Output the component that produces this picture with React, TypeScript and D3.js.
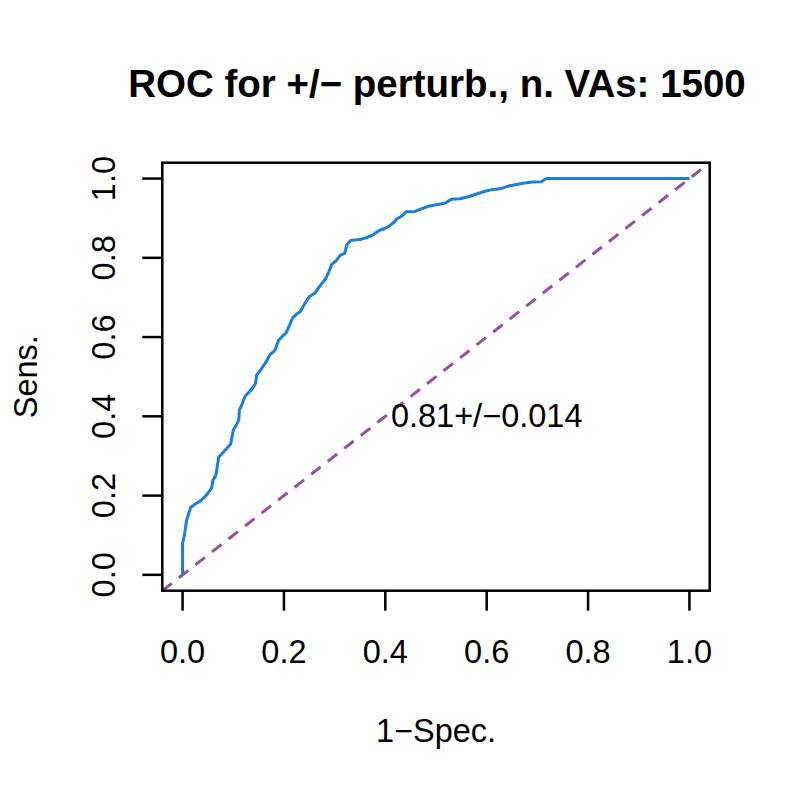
import React, { useEffect, useRef } from "react";
import * as d3 from "d3";

// ROC curve points (1-Spec., Sens.)
const fpr = [0, 0, 0.003, 0.008, 0.016, 0.024, 0.035, 0.047, 0.057, 0.06, 0.066, 0.071,
  0.083, 0.095, 0.1, 0.106, 0.111, 0.112, 0.117, 0.123, 0.136, 0.144, 0.146, 0.153,
  0.165, 0.172, 0.182, 0.189, 0.196, 0.204, 0.21, 0.217, 0.225, 0.232, 0.241, 0.25,
  0.261, 0.271, 0.282, 0.289, 0.294, 0.303, 0.311, 0.32, 0.324, 0.332, 0.35, 0.363,
  0.376, 0.388, 0.399, 0.409, 0.419, 0.422, 0.432, 0.441, 0.459, 0.472, 0.485, 0.501,
  0.518, 0.524, 0.531, 0.547, 0.564, 0.58, 0.597, 0.61, 0.626, 0.643, 0.659, 0.672,
  0.689, 0.708, 0.718, 1];
const tpr = [0, 0.08, 0.096, 0.138, 0.17, 0.178, 0.186, 0.201, 0.218, 0.239, 0.252, 0.296,
  0.313, 0.33, 0.365, 0.378, 0.391, 0.416, 0.429, 0.45, 0.468, 0.483, 0.504, 0.515,
  0.538, 0.555, 0.566, 0.591, 0.601, 0.61, 0.627, 0.648, 0.658, 0.664, 0.684, 0.702,
  0.711, 0.729, 0.747, 0.766, 0.783, 0.793, 0.806, 0.812, 0.833, 0.844, 0.846, 0.851,
  0.858, 0.869, 0.874, 0.881, 0.892, 0.898, 0.905, 0.916, 0.917, 0.924, 0.93, 0.934,
  0.938, 0.943, 0.948, 0.949, 0.954, 0.961, 0.968, 0.972, 0.974, 0.981, 0.985, 0.988,
  0.991, 0.992, 1, 1];
const ticks = [0, 0.2, 0.4, 0.6, 0.8, 1];
const title = "ROC for +/\u2212 perturb., n. VAs: 1500";
const aucLabel = "0.81+/\u22120.014";

const App = () => {
  const ref = useRef<SVGSVGElement>(null);

  useEffect(() => {
    const svg = d3.select(ref.current);
    svg.selectAll("*").remove();
    const font = "'Liberation Sans', Arial, sans-serif";
    const fs = 32.5;

    const left = 162.3, right = 709.7, top = 162.7, bottom = 590.7;
    // R style 4% padding on both ends
    const x = d3.scaleLinear().domain([-0.04, 1.04]).range([left, right]);
    const y = d3.scaleLinear().domain([-0.04, 1.04]).range([bottom, top]);

    // diagonal reference line
    svg.append("line")
      .attr("x1", x(-0.04)).attr("y1", y(-0.04))
      .attr("x2", x(1.04)).attr("y2", y(1.04))
      .attr("stroke", "#984ea3")
      .attr("stroke-width", 3)
      .attr("stroke-dasharray", "12 9");

    const pts: [number, number][] = fpr.map((d, i) => [d, tpr[i]]);
    const line = d3.line<[number, number]>().x(d => x(d[0])).y(d => y(d[1]));
    svg.append("path")
      .attr("d", line(pts))
      .attr("fill", "none")
      .attr("stroke", "#1a7fd6")
      .attr("stroke-width", 3)
      .attr("stroke-linejoin", "round");

    // box
    svg.append("rect")
      .attr("x", left).attr("y", top)
      .attr("width", right - left).attr("height", bottom - top)
      .attr("fill", "none").attr("stroke", "black").attr("stroke-width", 2.5);

    // x axis
    const gx = svg.append("g");
    gx.selectAll("line").data(ticks).enter().append("line")
      .attr("x1", d => x(d)).attr("x2", d => x(d))
      .attr("y1", bottom).attr("y2", bottom + 20)
      .attr("stroke", "black").attr("stroke-width", 2.5);
    gx.selectAll("text").data(ticks).enter().append("text")
      .text(d => d3.format(".1f")(d))
      .attr("x", d => x(d)).attr("y", 663)
      .attr("text-anchor", "middle")
      .attr("font-family", font).attr("font-size", fs);

    // y axis
    const gy = svg.append("g");
    gy.selectAll("line").data(ticks).enter().append("line")
      .attr("y1", d => y(d)).attr("y2", d => y(d))
      .attr("x1", left).attr("x2", left - 20)
      .attr("stroke", "black").attr("stroke-width", 2.5);
    gy.selectAll("text").data(ticks).enter().append("text")
      .text(d => d3.format(".1f")(d))
      .attr("transform", d => `translate(115,${y(d)}) rotate(-90)`)
      .attr("text-anchor", "middle")
      .attr("font-family", font).attr("font-size", fs);

    // labels
    svg.append("text")
      .text(title)
      .attr("x", 437).attr("y", 97)
      .attr("text-anchor", "middle")
      .attr("font-family", font).attr("font-size", 38.5).attr("font-weight", "bold");
    svg.append("text")
      .text("1\u2212Spec.")
      .attr("x", (left + right) / 2).attr("y", 742)
      .attr("text-anchor", "middle")
      .attr("font-family", font).attr("font-size", fs);
    svg.append("text")
      .text("Sens.")
      .attr("transform", `translate(37,${(top + bottom) / 2}) rotate(-90)`)
      .attr("text-anchor", "middle")
      .attr("font-family", font).attr("font-size", fs);

    svg.append("text")
      .text(aucLabel)
      .attr("x", x(0.6)).attr("y", y(0.4) + 11)
      .attr("text-anchor", "middle")
      .attr("font-family", font).attr("font-size", fs);
  }, []);

  return (
    <div style={{ position: "absolute", left: 0, top: 0 }}>
      <svg ref={ref} width={793} height={793} style={{ display: "block", background: "white" }} />
    </div>
  );
};

export default App;
